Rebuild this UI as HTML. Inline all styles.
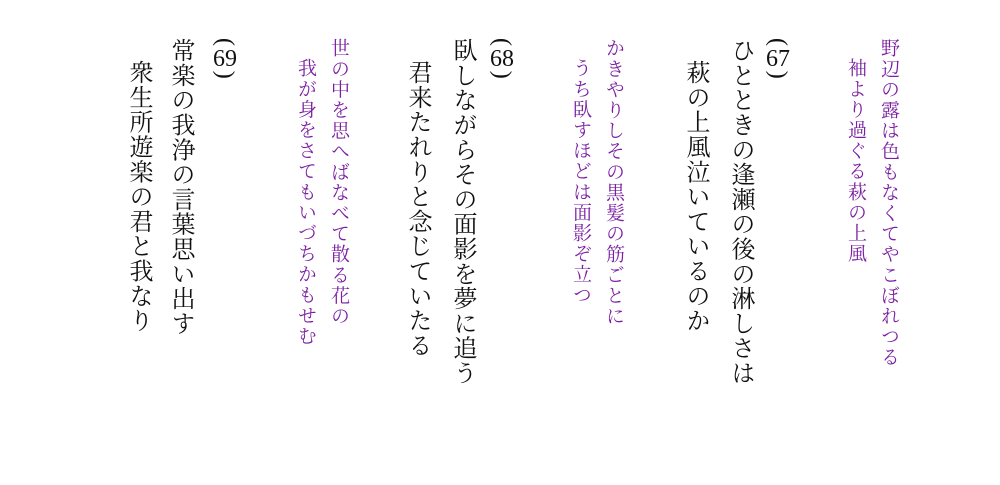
<!DOCTYPE html>
<html><head><meta charset="utf-8"><style>
body{margin:0;width:1000px;height:485px;background:#fff;position:relative;overflow:hidden;
font-family:"Liberation Serif","Noto Serif CJK JP","Noto Serif CJK SC",serif;}
.c{position:absolute;writing-mode:vertical-rl;white-space:nowrap;width:30px;line-height:30px;}
.b{font-size:24px;color:#111;letter-spacing:0.8px;}
.p{font-size:19px;color:#7b1fa2;letter-spacing:1.6px;}
.t{text-combine-upright:all;}
</style></head><body>
<div class="c p" style="left:873px;top:38px">野辺の露は色もなくてやこぼれつる</div>
<div class="c p" style="left:840px;top:58px">袖より過ぐる萩の上風</div>
<div class="c b" style="left:763px;top:38px">(<span class="t">67</span>)</div>
<div class="c b" style="left:725px;top:38px">ひとときの逢瀬の後の淋しさは</div>
<div class="c b" style="left:680px;top:60px">萩の上風泣いているのか</div>
<div class="c p" style="left:598px;top:38px">かきやりしその黒髪の筋ごとに</div>
<div class="c p" style="left:565px;top:58px">うち臥すほどは面影ぞ立つ</div>
<div class="c b" style="left:487px;top:38px">(<span class="t">68</span>)</div>
<div class="c b" style="left:447px;top:38px">臥しながらその面影を夢に追う</div>
<div class="c b" style="left:402px;top:60px">君来たれりと念じていたる</div>
<div class="c p" style="left:323px;top:38px">世の中を思へばなべて散る花の</div>
<div class="c p" style="left:290px;top:58px">我が身をさてもいづちかもせむ</div>
<div class="c b" style="left:210px;top:38px">(<span class="t">69</span>)</div>
<div class="c b" style="left:165px;top:38px">常楽の我浄の言葉思い出す</div>
<div class="c b" style="left:123px;top:60px">衆生所遊楽の君と我なり</div>
</body></html>
